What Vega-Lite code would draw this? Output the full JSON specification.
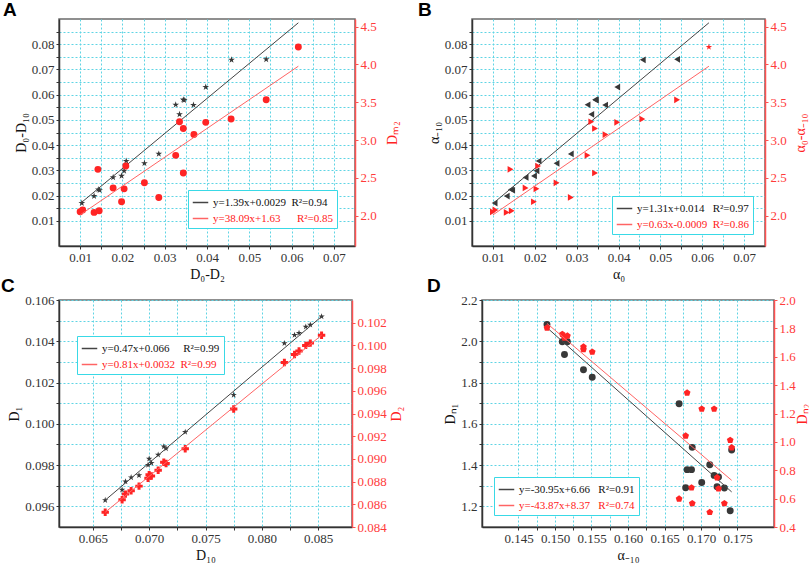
{
  "$schema": "https://vega.github.io/schema/vega-lite/v6.json",
  "background": "white",
  "padding": {"left": 0, "top": 0, "right": 0, "bottom": 0},
  "spacing": -6,
  "resolve": {"scale": {"color": "independent"}, "legend": {"color": "independent"}},
  "datasets": {
    "ab_left": [
      {"x": 0.0104, "y": 0.0170}, {"x": 0.0133, "y": 0.0198}, {"x": 0.0143, "y": 0.0224},
      {"x": 0.0146, "y": 0.0221}, {"x": 0.0178, "y": 0.0272}, {"x": 0.0198, "y": 0.0278},
      {"x": 0.0204, "y": 0.0298}, {"x": 0.0209, "y": 0.0337}, {"x": 0.0252, "y": 0.0328},
      {"x": 0.0286, "y": 0.0365}, {"x": 0.0326, "y": 0.0560}, {"x": 0.0335, "y": 0.0522},
      {"x": 0.0344, "y": 0.0580}, {"x": 0.0346, "y": 0.0578}, {"x": 0.0368, "y": 0.0559},
      {"x": 0.0397, "y": 0.0630}, {"x": 0.0458, "y": 0.0738}, {"x": 0.0540, "y": 0.0740}
    ],
    "ab_right": [
      {"x": 0.0100, "y": 2.052}, {"x": 0.0106, "y": 2.077}, {"x": 0.0133, "y": 2.044},
      {"x": 0.0145, "y": 2.065}, {"x": 0.0142, "y": 2.613}, {"x": 0.0178, "y": 2.367},
      {"x": 0.0198, "y": 2.185}, {"x": 0.0204, "y": 2.355}, {"x": 0.0208, "y": 2.657},
      {"x": 0.0252, "y": 2.435}, {"x": 0.0286, "y": 2.242}, {"x": 0.0326, "y": 2.798},
      {"x": 0.0335, "y": 3.242}, {"x": 0.0344, "y": 3.153}, {"x": 0.0344, "y": 2.565},
      {"x": 0.0369, "y": 3.073}, {"x": 0.0397, "y": 3.234}, {"x": 0.0457, "y": 3.278},
      {"x": 0.0540, "y": 3.532}, {"x": 0.0616, "y": 4.230}
    ],
    "c_left": [
      {"x": 0.0661, "y": 0.0963}, {"x": 0.0676, "y": 0.0968}, {"x": 0.0679, "y": 0.0972},
      {"x": 0.0684, "y": 0.0974}, {"x": 0.0691, "y": 0.0975}, {"x": 0.0699, "y": 0.0980},
      {"x": 0.0700, "y": 0.0983}, {"x": 0.0702, "y": 0.0981}, {"x": 0.0708, "y": 0.0985},
      {"x": 0.0713, "y": 0.0989}, {"x": 0.0715, "y": 0.0988}, {"x": 0.0732, "y": 0.0996},
      {"x": 0.0775, "y": 0.1014}, {"x": 0.0820, "y": 0.1039}, {"x": 0.0829, "y": 0.1043},
      {"x": 0.0833, "y": 0.1044}, {"x": 0.0839, "y": 0.1047}, {"x": 0.0843, "y": 0.1048},
      {"x": 0.0853, "y": 0.1052}
    ],
    "c_right": [
      {"x": 0.0661, "y": 0.0853}, {"x": 0.0676, "y": 0.0864}, {"x": 0.0679, "y": 0.0869},
      {"x": 0.0684, "y": 0.0872}, {"x": 0.0691, "y": 0.0876}, {"x": 0.0699, "y": 0.0883},
      {"x": 0.0700, "y": 0.0886}, {"x": 0.0702, "y": 0.0885}, {"x": 0.0708, "y": 0.0890},
      {"x": 0.0713, "y": 0.0897}, {"x": 0.0715, "y": 0.0896}, {"x": 0.0732, "y": 0.0909},
      {"x": 0.0775, "y": 0.0944}, {"x": 0.0820, "y": 0.0985}, {"x": 0.0829, "y": 0.0992},
      {"x": 0.0833, "y": 0.0995}, {"x": 0.0839, "y": 0.1000}, {"x": 0.0843, "y": 0.1002},
      {"x": 0.0853, "y": 0.1009}
    ],
    "d_left": [
      {"x": 0.1489, "y": 2.082}, {"x": 0.1510, "y": 1.998}, {"x": 0.1513, "y": 1.936},
      {"x": 0.1517, "y": 1.998}, {"x": 0.1539, "y": 1.862}, {"x": 0.1551, "y": 1.826},
      {"x": 0.1670, "y": 1.697}, {"x": 0.1679, "y": 1.290}, {"x": 0.1681, "y": 1.378},
      {"x": 0.1687, "y": 1.378}, {"x": 0.1688, "y": 1.486}, {"x": 0.1701, "y": 1.316},
      {"x": 0.1712, "y": 1.402}, {"x": 0.1718, "y": 1.350}, {"x": 0.1722, "y": 1.295},
      {"x": 0.1724, "y": 1.342}, {"x": 0.1732, "y": 1.289}, {"x": 0.1740, "y": 1.179},
      {"x": 0.1742, "y": 1.473}
    ],
    "d_right": [
      {"x": 0.1489, "y": 1.804}, {"x": 0.1510, "y": 1.759}, {"x": 0.1513, "y": 1.733},
      {"x": 0.1517, "y": 1.747}, {"x": 0.1539, "y": 1.670}, {"x": 0.1539, "y": 1.651},
      {"x": 0.1551, "y": 1.634}, {"x": 0.1670, "y": 0.599}, {"x": 0.1679, "y": 1.043},
      {"x": 0.1681, "y": 1.346}, {"x": 0.1687, "y": 0.677}, {"x": 0.1688, "y": 0.566},
      {"x": 0.1701, "y": 1.232}, {"x": 0.1718, "y": 1.232}, {"x": 0.1712, "y": 0.504},
      {"x": 0.1722, "y": 0.748}, {"x": 0.1724, "y": 0.670}, {"x": 0.1732, "y": 0.566},
      {"x": 0.1740, "y": 1.012}, {"x": 0.1742, "y": 0.960}
    ],
    "fit_a_left": [
      {"x": 0.0102, "y": 0.0171, "fit": "y=1.39x+0.0029\u00a0\u00a0R²=0.94"},
      {"x": 0.0616, "y": 0.0885, "fit": "y=1.39x+0.0029\u00a0\u00a0R²=0.94"}
    ],
    "fit_a_right": [
      {"x": 0.0100, "y": 2.011, "fit": "y=38.09x+1.63\u00a0\u00a0\u00a0\u00a0\u00a0\u00a0R²=0.85"},
      {"x": 0.0616, "y": 3.976, "fit": "y=38.09x+1.63\u00a0\u00a0\u00a0\u00a0\u00a0\u00a0R²=0.85"}
    ],
    "fit_b_left": [
      {"x": 0.0102, "y": 0.0171, "fit": "y=1.31x+0.014\u00a0\u00a0\u00a0R²=0.97"},
      {"x": 0.0616, "y": 0.0885, "fit": "y=1.31x+0.014\u00a0\u00a0\u00a0R²=0.97"}
    ],
    "fit_b_right": [
      {"x": 0.0100, "y": 2.011, "fit": "y=0.63x-0.0009\u00a0\u00a0R²=0.86"},
      {"x": 0.0616, "y": 3.976, "fit": "y=0.63x-0.0009\u00a0\u00a0R²=0.86"}
    ],
    "fit_c_left": [
      {"x": 0.0661, "y": 0.0963, "fit": "y=0.47x+0.066\u00a0\u00a0\u00a0\u00a0\u00a0R²=0.99"},
      {"x": 0.0853, "y": 0.1052, "fit": "y=0.47x+0.066\u00a0\u00a0\u00a0\u00a0\u00a0R²=0.99"}
    ],
    "fit_c_right": [
      {"x": 0.0661, "y": 0.0853, "fit": "y=0.81x+0.0032\u00a0\u00a0R²=0.99"},
      {"x": 0.0853, "y": 0.1009, "fit": "y=0.81x+0.0032\u00a0\u00a0R²=0.99"}
    ],
    "fit_d_left": [
      {"x": 0.1489, "y": 2.066, "fit": "y=-30.95x+6.66\u00a0\u00a0\u00a0R²=0.91"},
      {"x": 0.1742, "y": 1.270, "fit": "y=-30.95x+6.66\u00a0\u00a0\u00a0R²=0.91"}
    ],
    "fit_d_right": [
      {"x": 0.1489, "y": 1.835, "fit": "y=-43.87x+8.37\u00a0\u00a0\u00a0R²=0.74"},
      {"x": 0.1742, "y": 0.729, "fit": "y=-43.87x+8.37\u00a0\u00a0\u00a0R²=0.74"}
    ]
  },
  "vconcat": [
    {
      "spacing": 17,
      "resolve": {"scale": {"color": "independent"}, "legend": {"color": "independent"}},
      "hconcat": [
        {
          "width": 296,
          "height": 227,
          "title": {"text": "A", "anchor": "start", "frame": "group", "dx": -56, "offset": -20, "baseline": "bottom"},
          "layer": [
            {
              "layer": [
                {
                  "data": {"name": "ab_left"},
                  "mark": {"type": "point", "filled": true, "opacity": 1, "size": 50, "color": "#383838",
                    "shape": "M0,-1L0.225,-0.309L0.951,-0.309L0.363,0.118L0.588,0.809L0,0.382L-0.588,0.809L-0.363,0.118L-0.951,-0.309L-0.225,-0.309Z"},
                  "encoding": {
                    "x": {"field": "x", "type": "quantitative", "scale": {"domain": [0.005, 0.07]},
                      "axis": {"title": "D₀-D₂", "grid": true, "tickCount": 100, "labelOverlap": false, "labelFlush": false,
                        "values": [0.01, 0.015, 0.02, 0.025, 0.03, 0.035, 0.04, 0.045, 0.05, 0.055, 0.06, 0.065, 0.07],
                        "labelExpr": "abs(datum.value*100 - round(datum.value*100)) < 0.001 ? format(datum.value, '.2f') : ''"}},
                    "y": {"field": "y", "type": "quantitative", "scale": {"domain": [0.005, 0.085]},
                      "axis": {"title": "D₀-D₁₀", "orient": "left", "grid": true, "tickCount": 100, "labelOverlap": false,
                        "values": [0.01, 0.015, 0.02, 0.025, 0.03, 0.035, 0.04, 0.045, 0.05, 0.055, 0.06, 0.065, 0.07, 0.075, 0.08, 0.085],
                        "labelExpr": "abs(datum.value*100 - round(datum.value*100)) < 0.001 ? format(datum.value, '.2f') : ''"}}
                  }
                },
                {
                  "data": {"name": "fit_a_left"},
                  "mark": {"type": "line", "strokeWidth": 1, "clip": true},
                  "encoding": {
                    "x": {"field": "x", "type": "quantitative"},
                    "y": {"field": "y", "type": "quantitative"},
                    "color": {"field": "fit", "type": "nominal",
                      "scale": {"domain": ["y=1.39x+0.0029\u00a0\u00a0R²=0.94", "y=38.09x+1.63\u00a0\u00a0\u00a0\u00a0\u00a0\u00a0R²=0.85"], "range": ["#444444", "#ff6464"]},
                      "legend": {"title": null, "orient": "bottom-right", "offset": 18}}
                  }
                }
              ]
            },
            {
              "layer": [
                {
                  "data": {"name": "ab_right"},
                  "mark": {"type": "point", "filled": true, "opacity": 1, "size": 48, "color": "#ff2424", "shape": "circle"},
                  "encoding": {
                    "x": {"field": "x", "type": "quantitative", "scale": {"domain": [0.005, 0.07]}},
                    "y": {"field": "y", "type": "quantitative", "scale": {"domain": [1.75, 4.5]},
                      "axis": {"title": "Dₘ₂", "orient": "right", "tickCount": 100, "labelOverlap": false, "titlePadding": 9, "values": [2, 2.5, 3, 3.5, 4, 4.5], "format": ".1f"}}
                  }
                },
                {
                  "data": {"name": "fit_a_right"},
                  "mark": {"type": "line", "strokeWidth": 1, "clip": true},
                  "encoding": {
                    "x": {"field": "x", "type": "quantitative"},
                    "y": {"field": "y", "type": "quantitative"},
                    "color": {"field": "fit", "type": "nominal"}
                  }
                }
              ]
            }
          ],
          "resolve": {"scale": {"y": "independent"}}
        },
        {
          "width": 293,
          "height": 227,
          "title": {"text": "B", "anchor": "start", "frame": "group", "dx": -54, "offset": -20, "baseline": "bottom"},
          "layer": [
            {
              "layer": [
                {
                  "data": {"name": "ab_left"},
                  "mark": {"type": "point", "filled": true, "opacity": 1, "size": 45, "color": "#383838", "shape": "triangle-left"},
                  "encoding": {
                    "x": {"field": "x", "type": "quantitative", "scale": {"domain": [0.005, 0.07]},
                      "axis": {"title": "α₀", "grid": true, "tickCount": 100, "labelOverlap": false, "labelFlush": false,
                        "values": [0.01, 0.015, 0.02, 0.025, 0.03, 0.035, 0.04, 0.045, 0.05, 0.055, 0.06, 0.065, 0.07],
                        "labelExpr": "abs(datum.value*100 - round(datum.value*100)) < 0.001 ? format(datum.value, '.2f') : ''"}},
                    "y": {"field": "y", "type": "quantitative", "scale": {"domain": [0.005, 0.085]},
                      "axis": {"title": "α₋₁₀", "orient": "left", "grid": true, "tickCount": 100, "labelOverlap": false,
                        "values": [0.01, 0.015, 0.02, 0.025, 0.03, 0.035, 0.04, 0.045, 0.05, 0.055, 0.06, 0.065, 0.07, 0.075, 0.08, 0.085],
                        "labelExpr": "abs(datum.value*100 - round(datum.value*100)) < 0.001 ? format(datum.value, '.2f') : ''"}}
                  }
                },
                {
                  "data": {"name": "fit_b_left"},
                  "mark": {"type": "line", "strokeWidth": 1, "clip": true},
                  "encoding": {
                    "x": {"field": "x", "type": "quantitative"},
                    "y": {"field": "y", "type": "quantitative"},
                    "color": {"field": "fit", "type": "nominal",
                      "scale": {"domain": ["y=1.31x+0.014\u00a0\u00a0\u00a0R²=0.97", "y=0.63x-0.0009\u00a0\u00a0R²=0.86"], "range": ["#444444", "#ff6464"]},
                      "legend": {"title": null, "orient": "bottom-right", "offset": 12}}
                  }
                }
              ]
            },
            {
              "layer": [
                {
                  "data": {"name": "ab_right"},
                  "mark": {"type": "point", "filled": true, "opacity": 1, "size": 45, "color": "#ff2424"},
                  "encoding": {
                    "x": {"field": "x", "type": "quantitative", "scale": {"domain": [0.005, 0.07]}},
                    "y": {"field": "y", "type": "quantitative", "scale": {"domain": [1.75, 4.5]},
                      "axis": {"title": "α₀-α₋₁₀", "orient": "right", "tickCount": 100, "labelOverlap": false, "titlePadding": 7, "values": [2, 2.5, 3, 3.5, 4, 4.5], "format": ".1f"}},
                    "shape": {"condition": {"test": "datum.x > 0.06", "value": "M0,-1L0.225,-0.309L0.951,-0.309L0.363,0.118L0.588,0.809L0,0.382L-0.588,0.809L-0.363,0.118L-0.951,-0.309L-0.225,-0.309Z"}, "value": "triangle-right"}
                  }
                },
                {
                  "data": {"name": "fit_b_right"},
                  "mark": {"type": "line", "strokeWidth": 1, "clip": true},
                  "encoding": {
                    "x": {"field": "x", "type": "quantitative"},
                    "y": {"field": "y", "type": "quantitative"},
                    "color": {"field": "fit", "type": "nominal"}
                  }
                }
              ]
            }
          ],
          "resolve": {"scale": {"y": "independent"}}
        }
      ]
    },
    {
      "spacing": 22,
      "resolve": {"scale": {"color": "independent"}, "legend": {"color": "independent"}},
      "hconcat": [
        {
          "width": 293,
          "height": 227,
          "title": {"text": "C", "anchor": "start", "frame": "group", "dx": -58, "offset": -21, "baseline": "bottom"},
          "layer": [
            {
              "layer": [
                {
                  "data": {"name": "c_left"},
                  "mark": {"type": "point", "filled": true, "opacity": 1, "size": 45, "color": "#383838",
                    "shape": "M0,-1L0.225,-0.309L0.951,-0.309L0.363,0.118L0.588,0.809L0,0.382L-0.588,0.809L-0.363,0.118L-0.951,-0.309L-0.225,-0.309Z"},
                  "encoding": {
                    "x": {"field": "x", "type": "quantitative", "scale": {"domain": [0.0626, 0.087]},
                      "axis": {"title": "D₁₀", "grid": true, "tickCount": 100, "labelOverlap": false, "labelFlush": false,
                        "values": [0.065, 0.0675, 0.07, 0.0725, 0.075, 0.0775, 0.08, 0.0825, 0.085],
                        "labelExpr": "abs(datum.value*200 - round(datum.value*200)) < 0.001 ? format(datum.value, '.3f') : ''"}},
                    "y": {"field": "y", "type": "quantitative", "scale": {"domain": [0.095, 0.106]},
                      "axis": {"title": "D₁", "orient": "left", "grid": true, "tickCount": 100, "labelOverlap": false,
                        "values": [0.096, 0.097, 0.098, 0.099, 0.1, 0.101, 0.102, 0.103, 0.104, 0.105, 0.106],
                        "labelExpr": "round(datum.value*1000) % 2 == 0 ? format(datum.value, '.3f') : ''"}}
                  }
                },
                {
                  "data": {"name": "fit_c_left"},
                  "mark": {"type": "line", "strokeWidth": 1, "clip": true},
                  "encoding": {
                    "x": {"field": "x", "type": "quantitative"},
                    "y": {"field": "y", "type": "quantitative"},
                    "color": {"field": "fit", "type": "nominal",
                      "scale": {"domain": ["y=0.47x+0.066\u00a0\u00a0\u00a0\u00a0\u00a0R²=0.99", "y=0.81x+0.0032\u00a0\u00a0R²=0.99"], "range": ["#444444", "#ff6464"]},
                      "legend": {"title": null, "orient": "none", "legendX": 18, "legendY": 36}}
                  }
                }
              ]
            },
            {
              "layer": [
                {
                  "data": {"name": "c_right"},
                  "mark": {"type": "point", "filled": true, "opacity": 1, "size": 55, "color": "#ff2424", "shape": "cross"},
                  "encoding": {
                    "x": {"field": "x", "type": "quantitative", "scale": {"domain": [0.0626, 0.087]}},
                    "y": {"field": "y", "type": "quantitative", "scale": {"domain": [0.084, 0.103]},
                      "axis": {"title": "D₂", "orient": "right", "tickCount": 100, "labelOverlap": false,
                        "values": [0.084, 0.086, 0.088, 0.09, 0.092, 0.094, 0.096, 0.098, 0.1, 0.102], "format": ".3f"}}
                  }
                },
                {
                  "data": {"name": "fit_c_right"},
                  "mark": {"type": "line", "strokeWidth": 1, "clip": true},
                  "encoding": {
                    "x": {"field": "x", "type": "quantitative"},
                    "y": {"field": "y", "type": "quantitative"},
                    "color": {"field": "fit", "type": "nominal"}
                  }
                }
              ]
            }
          ],
          "resolve": {"scale": {"y": "independent"}}
        },
        {
          "width": 292,
          "height": 227,
          "title": {"text": "D", "anchor": "start", "frame": "group", "dx": -55, "offset": -21, "baseline": "bottom"},
          "layer": [
            {
              "layer": [
                {
                  "data": {"name": "d_left"},
                  "mark": {"type": "point", "filled": true, "opacity": 1, "size": 48, "color": "#383838", "shape": "circle"},
                  "encoding": {
                    "x": {"field": "x", "type": "quantitative", "scale": {"domain": [0.145, 0.1772]},
                      "axis": {"title": "α₋₁₀", "grid": true, "tickCount": 100, "labelOverlap": false, "labelFlush": false,
                        "values": [0.145, 0.1475, 0.15, 0.1525, 0.155, 0.1575, 0.16, 0.1625, 0.165, 0.1675, 0.17, 0.1725, 0.175],
                        "labelExpr": "abs(datum.value*200 - round(datum.value*200)) < 0.001 ? format(datum.value, '.3f') : ''"}},
                    "y": {"field": "y", "type": "quantitative", "scale": {"domain": [1.1, 2.2]},
                      "axis": {"title": "Dₙ₁", "orient": "left", "grid": true, "tickCount": 100, "labelOverlap": false,
                        "values": [1.2, 1.3, 1.4, 1.5, 1.6, 1.7, 1.8, 1.9, 2.0, 2.1, 2.2],
                        "labelExpr": "round(datum.value*10) % 2 == 0 ? format(datum.value, '.1f') : ''"}}
                  }
                },
                {
                  "data": {"name": "fit_d_left"},
                  "mark": {"type": "line", "strokeWidth": 1, "clip": true},
                  "encoding": {
                    "x": {"field": "x", "type": "quantitative"},
                    "y": {"field": "y", "type": "quantitative"},
                    "color": {"field": "fit", "type": "nominal",
                      "scale": {"domain": ["y=-30.95x+6.66\u00a0\u00a0\u00a0R²=0.91", "y=-43.87x+8.37\u00a0\u00a0\u00a0R²=0.74"], "range": ["#444444", "#ff6464"]},
                      "legend": {"title": null, "orient": "bottom-left", "offset": 12}}
                  }
                }
              ]
            },
            {
              "layer": [
                {
                  "data": {"name": "d_right"},
                  "mark": {"type": "point", "filled": true, "opacity": 1, "size": 50, "color": "#ff2424",
                    "shape": "M0,-1L0.951,-0.309L0.588,0.809L-0.588,0.809L-0.951,-0.309Z"},
                  "encoding": {
                    "x": {"field": "x", "type": "quantitative", "scale": {"domain": [0.145, 0.1772]}},
                    "y": {"field": "y", "type": "quantitative", "scale": {"domain": [0.4, 2.0]},
                      "axis": {"title": "Dₙ₂", "orient": "right", "tickCount": 100, "labelOverlap": false, "titlePadding": 0,
                        "values": [0.4, 0.6, 0.8, 1.0, 1.2, 1.4, 1.6, 1.8, 2.0], "format": ".1f"}}
                  }
                },
                {
                  "data": {"name": "fit_d_right"},
                  "mark": {"type": "line", "strokeWidth": 1, "clip": true},
                  "encoding": {
                    "x": {"field": "x", "type": "quantitative"},
                    "y": {"field": "y", "type": "quantitative"},
                    "color": {"field": "fit", "type": "nominal"}
                  }
                }
              ]
            }
          ],
          "resolve": {"scale": {"y": "independent"}}
        }
      ]
    }
  ],
  "config": {
    "view": {"stroke": "#6b6b6b", "strokeWidth": 1.5},
    "title": {"font": "Liberation Sans", "fontSize": 19, "fontWeight": "bold", "color": "#000000"},
    "axis": {
      "grid": false,
      "labelFont": "Liberation Serif", "labelFontSize": 13, "labelColor": "#333333",
      "titleFont": "Liberation Serif", "titleFontSize": 14, "titleFontWeight": "normal", "titleColor": "#111111",
      "domainColor": "#333333", "domainWidth": 1.5, "tickColor": "#333333", "tickSize": 3,
      "gridColor": "#5fd4e4", "gridDash": [2, 2], "gridWidth": 1, "gridOpacity": 1,
      "labelFlush": false, "labelOverlap": false, "labelPadding": 2, "titlePadding": 3
    },
    "axisRight": {
      "labelColor": "#ff3b3b", "titleColor": "#ff2222", "domainColor": "#ff5050", "tickColor": "#ff5050",
      "titleAngle": -90, "titleBaseline": "top", "titlePadding": 3, "labelPadding": 2
    },
    "legend": {
      "symbolType": "stroke", "symbolStrokeWidth": 1.5, "symbolSize": 240,
      "labelFont": "Liberation Serif", "labelFontSize": 11, "labelLimit": 400,
      "labelColor": {"expr": "datum.index == 0 ? '#111111' : '#ff2020'"},
      "padding": 4, "rowPadding": 2, "strokeColor": "#39d9e6", "fillColor": "#ffffff"
    }
  }
}
